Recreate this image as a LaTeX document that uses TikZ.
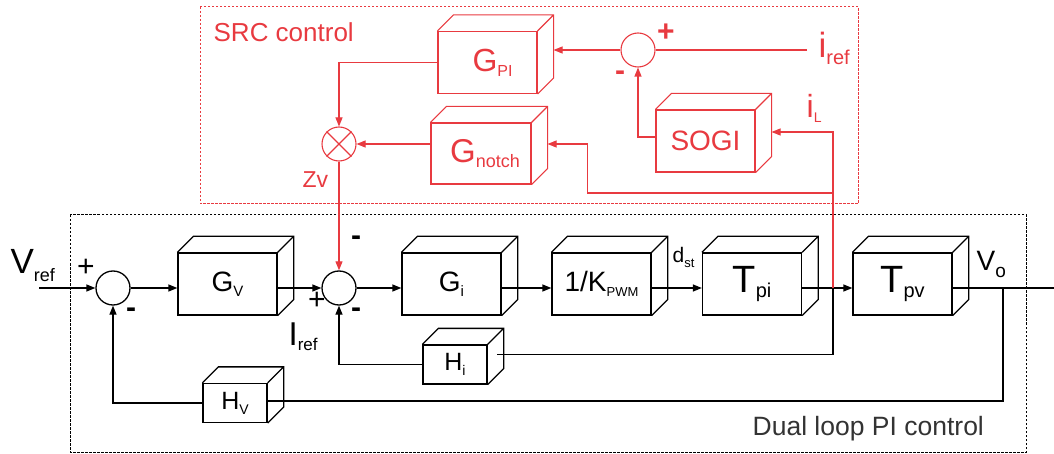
\documentclass[tikz,border=0pt]{standalone}
\usepackage{fontspec}
\setmainfont{Liberation Sans}
\usetikzlibrary{arrows.meta}

\newcommand{\fsz}[1]{\fontsize{#1}{#1}\selectfont}
\newcommand{\lsub}[3][5pt]{\raisebox{-#1}{\fsz{#2}#3}}
\definecolor{srcred}{RGB}{232,58,64}

\begin{document}
\begin{tikzpicture}[x=1pt, y=-1pt, line width=1.3pt, >={Triangle[length=9pt,width=7pt]},
  blk/.style={draw, inner sep=0pt, minimum width=99pt, minimum height=62pt},
  fbk/.style={blk, minimum width=64pt, minimum height=39pt},
  sum/.style={draw, circle, minimum size=34pt, inner sep=0pt},
  lab/.style={inner sep=0pt},
  sgn/.style={inner sep=0pt, font=\fsz{30}},
  srcline/.style={srcred, line width=1.1pt},
  frame/.style={line width=1pt, dash pattern=on 2.5pt off 1.5pt}]
\useasboundingbox (0,0) rectangle (1054,454);

% frames
\draw[frame] (70,215) rectangle (1026,452);
\draw[frame, srcred] (200,7) rectangle (858,204);

% dual loop
\node[sum] (s1) at (113,288) {};
\node[sum] (s2) at (339,288) {};
\node[blk, font=\fsz{28}] (gv) at (227.5,284) {G\lsub{15}{V}};
\node[blk, font=\fsz{28}] (gi) at (451.5,284) {G\lsub{15}{i}};
\node[blk, font=\fsz{28}] (kpwm) at (601.5,284) {1/K\lsub{13}{PWM}};
\node[blk, font=\fsz{38}] (tpi) at (752,284) {T\lsub{20}{pi}};
\node[blk, font=\fsz{38}] (tpv) at (902.5,284) {T\lsub{20}{pv}};
\node[fbk, font=\fsz{25}] (hi) at (455,364.5) {H\lsub{14}{i}};
\node[fbk, font=\fsz{25}] (hv) at (235,403) {H\lsub{14}{V}};
\coordinate (vin) at (39,288);
\coordinate (vout) at (1054,288);
\coordinate (tapI) at (833,288);
\coordinate (tapV) at (1003,288);

\draw[->] (vin) -- (s1.west);
\draw[->] (s1.east) -- (s1 -| gv.west);
\draw[->] (s2 -| gv.east) -- (s2.west);
\draw[->] (s2.east) -- (s2 -| gi.west);
\draw[->] (s2 -| gi.east) -- (s2 -| kpwm.west);
\draw[->] (s2 -| kpwm.east) -- (s2 -| tpi.west);
\draw[->] (s2 -| tpi.east) -- (s2 -| tpv.west);
\draw (s2 -| tpv.east) -- (vout);
\draw[->] (hi.west) -| (s2.south);
\draw (tapI) |- ([xshift=9pt, yshift=10pt]hi.east);
\draw (tapV) |- ([yshift=2pt]hv.east);
\draw[->] (hv.west) -| (s1.south);

% SRC control
\node[sum, srcline] (s3) at (638,50) {};
\node[sum, srcline] (mult) at (339,144) {};
\node[blk, srcline, font=\fsz{32}] (gpi) at (487.5,62.5) {\hspace{10pt}G\lsub{16}{PI}};
\node[blk, srcline, font=\fsz{33}, minimum width=100pt, minimum height=61pt] (gnotch) at (481,153.5) {\hspace{8pt}G\lsub{18}{notch}};
\node[blk, srcline, font=\fsz{28}] (sogi) at (705.5,141) {SOGI};
\coordinate (iref) at (807,50);
\coordinate (tapN) at (833,193);

\draw[srcline] (mult.45) -- (mult.225) (mult.135) -- (mult.315);
\draw[srcline] (iref) -- (s3.east);
\draw[srcline, ->] (s3.west) -- ([xshift=16pt, yshift=12.5pt]gpi.east);
\draw[srcline, ->] (gpi.west) -| (mult.north);
\draw[srcline, ->] (gnotch.west |- mult) -- (mult.east);
\draw[srcline, ->] ([yshift=4pt]sogi.west) -| (s3.south);
\draw[srcline, ->] (tapI) |- ([xshift=16pt, yshift=9pt]sogi.east);
\draw[srcline, ->] (tapN) -| ([xshift=56pt]gnotch.east |- mult) -- ([xshift=16pt]gnotch.east |- mult);
\draw[srcline, ->] (mult.south) -- (s2.north);

% depth of the blocks
\foreach \n in {gv,gi,kpwm,tpi,tpv,hi,hv}
  \draw (\n.north west) -- ++(16,-16) -| ([shift={(16,-16)}]\n.south east) -- (\n.south east)
    (\n.north east) -- ++(16,-16);
\foreach \n in {gpi,gnotch,sogi}
  \draw[srcline] (\n.north west) -- ++(16,-16) -| ([shift={(16,-16)}]\n.south east) -- (\n.south east)
    (\n.north east) -- ++(16,-16);

% labels
\node[lab, anchor=base west, text=srcred, font=\fsz{26}] (srctitle) at (213,42) {SRC control};
\node[lab, anchor=base west, text=black!80, font=\fsz{26.5}] (dualtitle) at (752,435) {Dual loop PI control};
\node[lab, anchor=base west, font=\fsz{35}] (vref) at (10,273) {V\lsub[8pt]{18}{ref}};
\node[lab, anchor=base west, font=\fsz{33}] (iref1) at (288,345) {I\lsub{17}{ref}};
\node[lab, anchor=base west, font=\fsz{21}] (dst) at (672,262) {d\lsub{13}{st}};
\node[lab, anchor=base west, font=\fsz{28}] (vo) at (976,270) {V\lsub[7pt]{19}{o}};
\node[lab, anchor=base west, text=srcred, font=\fsz{35}] (ireflab) at (818,58) {i\lsub[7pt]{20}{ref}};
\node[lab, anchor=base west, text=srcred, font=\fsz{32}] (illab) at (806,118) {i\lsub{14}{L}};
\node[lab, anchor=base west, text=srcred, font=\fsz{23}] (zv) at (302,188) {Zv};
\node[sgn] (p1) at (86,268) {+};
\node[sgn] (m1) at (131,313) {\textbf{-}};
\node[sgn] (p2) at (317,301) {+};
\node[sgn] (m2) at (356,241) {\textbf{-}};
\node[sgn] (m3) at (356,313) {\textbf{-}};
\node[sgn, text=srcred] (p3) at (666,33) {\textbf{+}};
\node[sgn, text=srcred] (m4) at (620,76) {\textbf{-}};
\end{tikzpicture}
\end{document}
